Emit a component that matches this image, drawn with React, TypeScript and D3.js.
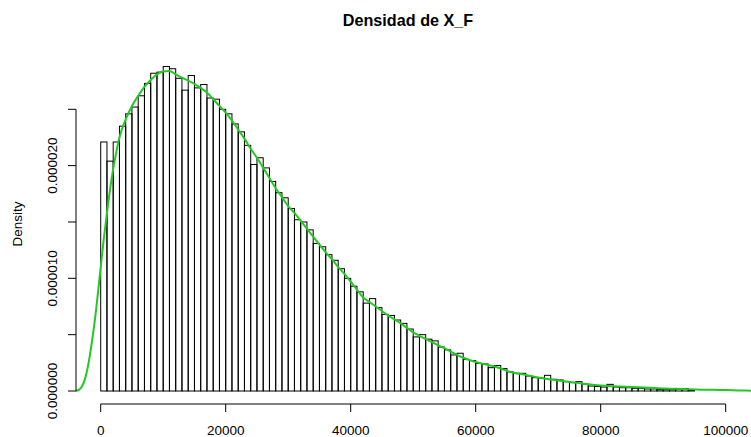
import React from "react";
import * as d3 from "d3";

// Histogram: bins of width 1000 starting at 0 (density values, in units of 1e-6)
const binStart = 0;
const binWidth = 1000;
const binDensity = [
  22.1, 20.4, 22.1, 23.5, 24.6, 25.2, 26.2, 27.3, 28.2, 28.3,
  28.8, 28.6, 27.75, 26.7, 28.0, 26.9, 27.2, 26.0, 25.9, 25.0,
  24.6, 23.7, 23.0, 21.8, 20.1, 20.7, 19.8, 18.6, 17.6, 17.15,
  16.2, 15.2, 15.0, 14.3, 13.1, 12.8, 12.1, 11.6, 10.85, 10.0,
  9.3, 8.8, 7.8, 8.2, 7.4, 6.8, 6.7, 6.3, 6.0, 5.5,
  4.8, 5.0, 4.6, 4.45, 3.9, 3.65, 3.2, 3.35, 2.8, 2.7,
  2.45, 2.4, 2.07, 2.26, 2.0, 1.7, 1.57, 1.57, 1.33, 1.18,
  1.15, 1.39, 1.04, 0.98, 0.83, 0.74, 0.83, 0.62, 0.44, 0.4,
  0.35, 0.59, 0.35, 0.29, 0.29, 0.24, 0.24, 0.18, 0.18, 0.12,
  0.12, 0.12, 0.15, 0.22, 0.09,
];

// Kernel density curve (x, density in 1e-6)
const curveX = [
  -3950, -3500, -3000, -2500, -2000, -1500, -1000, -500, 0, 500,
  1000, 1500, 2000, 2500, 3000, 4000, 5000, 6000, 7000, 8000,
  9000, 10000, 11000, 12000, 13000, 14000, 15000, 16000, 17000, 18000,
  19000, 20000, 21000, 22000, 23000, 24000, 25000, 26000, 27000, 28000,
  29000, 30000, 31000, 32000, 33000, 34000, 35000, 36000, 37000, 38000,
  39000, 40000, 41000, 42000, 43000, 44000, 45000, 46000, 47000, 48000,
  49000, 50000, 51000, 52000, 53000, 54000, 55000, 56000, 57000, 58000,
  59000, 60000, 61000, 62000, 63000, 64000, 65000, 66000, 67000, 68000,
  69000, 70000, 71000, 72000, 73000, 74000, 75000, 76000, 77000, 78000,
  79000, 80000, 82000, 84000, 86000, 88000, 90000, 92000, 94000, 96000,
  98000, 100000, 102000, 104000, 106000,
];
const curveY = [
  0, 0.1, 0.4, 1.1, 2.3, 4.0, 6.0, 8.4, 11.0, 13.5,
  15.8, 17.9, 19.7, 21.2, 22.5, 24.1, 25.3, 26.2, 27.0, 27.6,
  28.1, 28.35, 28.4, 28.1, 27.8, 27.55, 27.25, 26.9, 26.5, 25.9,
  25.3, 24.7, 24.0, 23.2, 22.4, 21.5, 20.7, 19.8, 18.9, 18.0,
  17.2, 16.4, 15.8, 15.1, 14.4, 13.7, 13.0, 12.3, 11.7, 11.0,
  10.4, 9.7, 9.0, 8.3, 7.9, 7.5, 7.1, 6.7, 6.35, 6.0,
  5.6, 5.2, 4.9, 4.6, 4.35, 4.05, 3.8, 3.5, 3.2, 2.95,
  2.75, 2.57, 2.43, 2.3, 2.17, 2.0, 1.78, 1.62, 1.53, 1.43,
  1.32, 1.2, 1.1, 1.02, 0.95, 0.88, 0.81, 0.74, 0.67, 0.59,
  0.53, 0.48, 0.42, 0.38, 0.33, 0.28, 0.23, 0.19, 0.15, 0.12,
  0.1, 0.08, 0.05, 0.03, 0.02,
];

const xTicks = [0, 20000, 40000, 60000, 80000, 100000];
const yTicks = [0, 5, 10, 15, 20, 25];
const yTickLabels = ["0.000000", "", "0.000010", "", "0.000020", ""];

const title = "Densidad de X_F";
const yTitle = "Density";

export default function App() {
  const W = 751;
  const H = 437;
  const x = d3.scaleLinear().domain([0, 100000]).range([100.7, 725.7]);
  const y = d3.scaleLinear().domain([0, 25]).range([391, 109.3]);
  const font = "'Liberation Sans', Arial, Helvetica, sans-serif";

  const line = d3
    .line<number>()
    .x((_, i) => x(curveX[i]))
    .y((d) => y(d))
    .curve(d3.curveMonotoneX);

  const axisY = 404;
  const axisX = 76;

  return (
    <svg
      width={W}
      height={H}
      style={{ position: "fixed", top: 0, left: 0, background: "#fff" }}
    >
      <rect x={0} y={0} width={W} height={H} fill="#fff" />
      <text
        x={408}
        y={25.5}
        textAnchor="middle"
        fontFamily={font}
        fontWeight="bold"
        fontSize={16.2}
      >
        {title}
      </text>
      {/* bars */}
      <g>
        {binDensity.map((d, i) => {
          const x0 = x(binStart + i * binWidth);
          const x1 = x(binStart + (i + 1) * binWidth);
          return (
            <rect
              key={i}
              x={x0}
              y={y(d)}
              width={x1 - x0}
              height={y(0) - y(d)}
              fill="none"
              stroke="#000"
              strokeWidth={1}
            />
          );
        })}
      </g>
      {/* density curve */}
      <path d={line(curveY) || ""} fill="none" stroke="#22c922" strokeWidth={2} />
      {/* x axis */}
      <g>
        <line x1={x(0)} x2={x(100000)} y1={axisY} y2={axisY} stroke="#000" />
        {xTicks.map((t) => (
          <g key={t}>
            <line x1={x(t)} x2={x(t)} y1={axisY} y2={axisY + 8} stroke="#000" />
            <text
              x={x(t)}
              y={435}
              textAnchor="middle"
              fontFamily={font}
              fontSize={13.5}
            >
              {t}
            </text>
          </g>
        ))}
      </g>
      {/* y axis */}
      <g>
        <line x1={axisX} x2={axisX} y1={y(0)} y2={y(25)} stroke="#000" />
        {yTicks.map((t, i) => (
          <g key={t}>
            <line x1={axisX - 8} x2={axisX} y1={y(t)} y2={y(t)} stroke="#000" />
            {yTickLabels[i] && (
              <text
                transform={`translate(56.5,${y(t)}) rotate(-90)`}
                textAnchor="middle"
                fontFamily={font}
                fontSize={13.5}
              >
                {yTickLabels[i]}
              </text>
            )}
          </g>
        ))}
        <text
          transform={`translate(22,224) rotate(-90)`}
          textAnchor="middle"
          fontFamily={font}
          fontSize={13.5}
        >
          {yTitle}
        </text>
      </g>
    </svg>
  );
}
